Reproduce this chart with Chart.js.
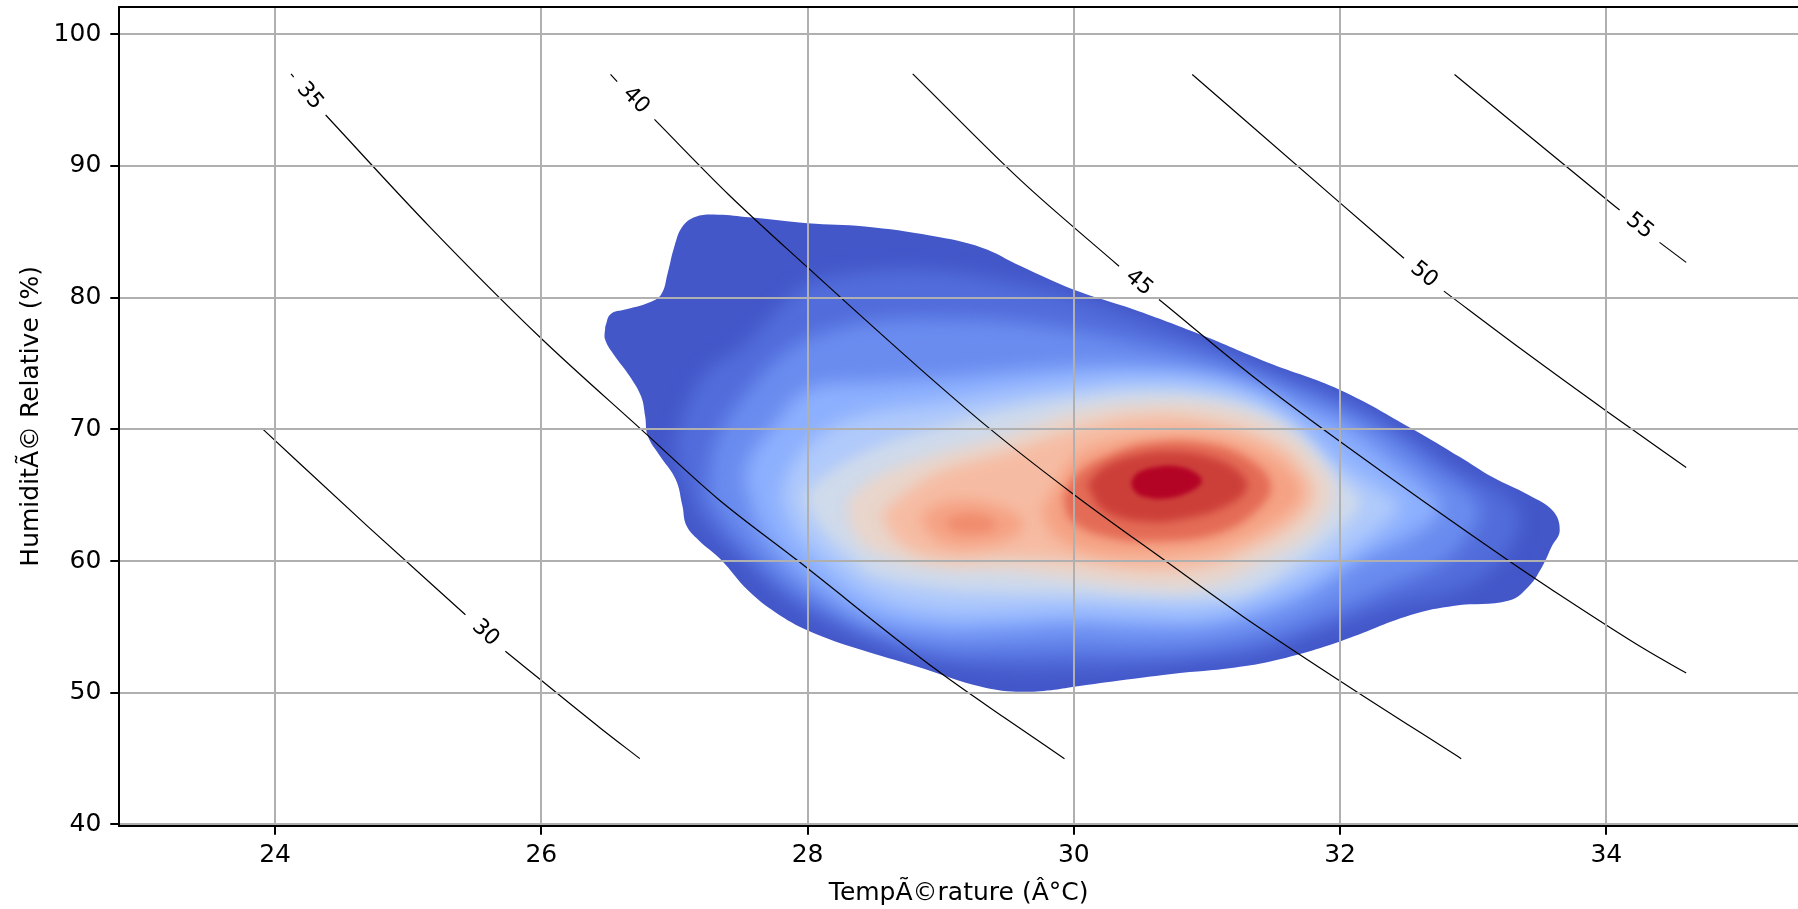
<!DOCTYPE html>
<html>
<head>
<meta charset="utf-8">
<title>Heat index vs KDE</title>
<script src="https://cdn.jsdelivr.net/npm/chart.js@4.4.1/dist/chart.umd.min.js"></script>
<style>
  html, body { margin: 0; padding: 0; background: #fff; }
  canvas { display: block; }
</style>
</head>
<body>
<canvas id="chart" width="1798" height="909"></canvas>
<script>
// ticks
const xTicks = [24, 26, 28, 30, 32, 34];
const yTicks = [40, 50, 60, 70, 80, 90, 100];

// density contours, [temperature, humidity], outermost first
const kde00 = [[26.48, 77.8], [26.52, 78.75], [26.63, 79.1], [26.8, 79.6], [26.9, 80.25], [26.95, 81.9], [27.0, 83.9], [27.06, 85.4], [27.16, 86.15], [27.33, 86.3], [27.56, 86.1], [28.0, 85.65], [28.43, 85.4], [28.93, 84.7], [29.31, 83.8], [29.6, 82.4], [30.0, 80.6], [30.45, 79.1], [30.95, 77.2], [31.45, 75.1], [32.0, 73.0], [32.55, 70.0], [32.9, 67.9], [33.14, 66.4], [33.42, 65.0], [33.6, 63.8], [33.65, 62.3], [33.59, 61.1], [33.52, 59.6], [33.42, 58.1], [33.27, 57.0], [32.86, 56.6], [32.53, 55.9], [32.0, 53.9], [31.53, 52.5], [31.2, 51.9], [30.75, 51.45], [30.4, 51.0], [30.0, 50.45], [29.83, 50.2], [29.54, 50.1], [29.25, 50.6], [28.82, 52.0], [28.39, 53.3], [28.01, 54.7], [27.76, 56.1], [27.55, 57.8], [27.35, 60.1], [27.18, 61.6], [27.09, 62.7], [27.06, 64.2], [27.01, 66.2], [26.89, 68.0], [26.8, 69.5], [26.78, 71.0], [26.75, 72.5], [26.66, 74.1], [26.55, 75.6], [26.48, 76.8]];
const kde05 = [[27.0, 69.0], [27.1, 72.0], [27.25, 74.5], [27.5, 76.2], [27.75, 78.8], [28.0, 81.0], [28.5, 82.0], [29.0, 82.0], [29.5, 81.2], [30.0, 80.0], [30.5, 78.3], [31.0, 76.4], [31.5, 74.3], [32.0, 72.3], [32.5, 69.5], [32.9, 66.8], [33.25, 64.8], [33.35, 63.0], [33.2, 60.0], [32.9, 57.9], [32.4, 56.6], [31.9, 54.8], [31.4, 53.0], [31.0, 52.5], [30.5, 52.0], [30.0, 51.8], [29.5, 51.8], [29.0, 52.3], [28.5, 53.9], [28.1, 55.6], [27.8, 57.5], [27.53, 60.0], [27.3, 62.0], [27.15, 64.0], [27.1, 65.5], [27.03, 67.3]];
const kde10 = [[27.25, 65.0], [27.28, 68.0], [27.35, 70.0], [27.5, 72.3], [27.85, 76.0], [28.2, 77.6], [28.6, 78.3], [29.0, 78.4], [29.5, 78.2], [30.0, 77.5], [30.5, 76.5], [31.0, 75.3], [31.5, 73.6], [32.0, 71.5], [32.35, 69.6], [32.7, 67.0], [33.0, 64.8], [33.05, 63.4], [32.95, 61.8], [32.78, 60.0], [32.3, 57.8], [31.9, 56.0], [31.5, 54.5], [31.0, 53.5], [30.5, 53.2], [30.0, 53.3], [29.5, 53.2], [29.0, 53.3], [28.5, 54.6], [28.15, 56.3], [27.85, 58.2], [27.65, 60.0], [27.42, 62.5]];
const kde20 = [[27.52, 66.5], [27.6, 68.5], [27.72, 70.0], [28.0, 73.0], [28.5, 73.6], [29.0, 73.9], [29.5, 74.4], [30.0, 74.8], [30.5, 74.8], [31.0, 74.2], [31.4, 73.0], [31.7, 71.6], [32.0, 70.3], [32.4, 67.4], [32.7, 65.0], [32.75, 63.8], [32.55, 62.0], [32.15, 60.0], [31.8, 57.6], [31.4, 55.9], [31.0, 55.0], [30.5, 54.9], [30.0, 55.1], [29.5, 54.8], [29.0, 54.7], [28.5, 55.6], [28.15, 57.5], [27.85, 60.0], [27.65, 62.5], [27.56, 65.0]];
const kde30 = [[27.8, 65.0], [27.9, 67.5], [28.15, 70.0], [28.5, 71.3], [29.0, 72.0], [29.5, 72.8], [30.0, 73.4], [30.5, 73.8], [31.0, 73.5], [31.4, 72.3], [31.7, 70.4], [32.0, 67.5], [32.3, 65.5], [32.45, 64.2], [32.3, 62.5], [31.95, 60.0], [31.5, 57.5], [31.0, 56.1], [30.5, 56.1], [30.0, 56.3], [29.5, 56.1], [29.0, 56.1], [28.5, 57.3], [28.12, 60.0], [27.9, 62.5]];
const kde40 = [[27.97, 64.8], [28.1, 66.3], [28.5, 68.6], [29.0, 70.2], [29.5, 71.5], [30.0, 72.4], [30.5, 72.9], [31.0, 72.6], [31.4, 71.5], [31.7, 69.5], [32.0, 66.2], [32.15, 64.5], [32.0, 62.5], [31.7, 60.0], [31.3, 57.6], [31.0, 57.2], [30.5, 57.2], [30.0, 57.5], [29.5, 57.6], [29.0, 57.9], [28.5, 58.9], [28.35, 60.0], [28.1, 62.5]];
const kde50 = [[28.3, 64.5], [28.4, 65.6], [28.6, 66.8], [29.0, 68.2], [29.5, 69.6], [30.0, 71.3], [30.5, 72.0], [31.0, 71.9], [31.5, 70.4], [31.8, 68.0], [31.95, 65.2], [31.8, 62.3], [31.4, 59.8], [31.0, 58.1], [30.5, 58.0], [30.0, 58.6], [29.5, 59.2], [29.0, 59.4], [28.5, 60.7], [28.33, 62.5]];
const kde60 = [[28.55, 63.5], [28.75, 65.3], [29.0, 66.8], [29.5, 68.3], [30.0, 70.0], [30.5, 71.0], [31.0, 70.7], [31.5, 69.0], [31.72, 67.0], [31.8, 65.0], [31.65, 62.8], [31.3, 60.8], [31.0, 59.6], [30.5, 59.3], [30.0, 60.0], [29.5, 60.3], [29.0, 60.2], [28.7, 61.3]];
const kde70a = [[29.75, 63.8], [29.85, 65.5], [30.0, 67.8], [30.25, 69.0], [30.6, 69.6], [31.0, 69.6], [31.35, 68.6], [31.62, 66.8], [31.7, 65.0], [31.55, 63.3], [31.2, 61.4], [30.85, 60.6], [30.45, 60.4], [30.1, 60.8], [29.85, 62.0]];
const kde70b = [[28.85, 63.4], [28.98, 64.3], [29.2, 64.6], [29.45, 64.1], [29.62, 63.0], [29.55, 61.9], [29.3, 61.2], [29.05, 61.3], [28.9, 62.3]];
const kde78 = [[29.05, 63.2], [29.2, 63.6], [29.38, 63.2], [29.4, 62.5], [29.25, 62.1], [29.08, 62.4]];
const kde80 = [[29.92, 64.8], [30.02, 66.6], [30.28, 68.1], [30.6, 69.0], [31.0, 68.9], [31.32, 67.7], [31.48, 65.8], [31.38, 63.9], [31.08, 62.1], [30.6, 61.5], [30.22, 61.9], [29.98, 63.1]];
const kde90 = [[30.1, 65.8], [30.22, 67.1], [30.45, 68.0], [30.75, 68.3], [31.05, 67.8], [31.25, 66.7], [31.3, 65.5], [31.15, 64.2], [30.88, 63.3], [30.52, 63.0], [30.22, 63.9]];
const kde97 = [[30.43, 66.0], [30.48, 66.7], [30.62, 67.15], [30.8, 67.15], [30.93, 66.6], [30.96, 66.0], [30.88, 65.3], [30.7, 64.75], [30.52, 64.9], [30.45, 65.4]];

const kdeContours = [kde00, kde05, kde10, kde20, kde30, kde40, kde50, kde60, kde70a, kde70b, kde78, kde80, kde90, kde97];
const kdeLevels = [0, 0.05, 0.1, 0.2, 0.3, 0.4, 0.5, 0.6, 0.7, 0.7, 0.76, 0.8, 0.9, 0.97];

// heat index isolines, each split in two where its label sits
const heatIndexLevels = [30, 35, 40, 45, 50, 55];
const hi30Before = [[23.91, 70.0], [24.7, 62.6], [25.43, 55.93]];
const hi30After = [[25.73, 53.16], [26.44, 47.35], [26.74, 45.0]];
const hi35Before = [[24.12, 97.0], [24.14, 96.75]];
const hi35After = [[24.38, 93.87], [25.16, 85.4], [26.0, 76.9], [26.75, 70.0], [27.33, 64.7], [27.93, 60.0], [28.96, 51.8], [29.48, 48.1], [29.93, 45.0]];
const hi40Before = [[26.52, 96.96], [26.57, 96.4]];
const hi40After = [[26.85, 93.54], [27.41, 87.8], [28.0, 82.3], [28.85, 74.56], [29.375, 70.0], [30.0, 65.06], [30.69, 60.0], [31.27, 55.8], [32.0, 50.9], [32.91, 45.0]];
const hi45Before = [[28.79, 97.0], [29.61, 88.83], [30.34, 82.39]];
const hi45After = [[30.64, 79.86], [31.39, 73.67], [32.01, 69.0], [33.27, 60.0], [33.58, 57.9], [34.29, 53.3], [34.6, 51.5]];
const hi50Before = [[30.89, 96.95], [32.0, 87.2], [32.48, 83.0]];
const hi50After = [[32.78, 80.5], [33.36, 76.1], [34.0, 71.4], [34.6, 67.1]];
const hi55Before = [[32.86, 96.95], [34.0, 87.47], [34.1, 86.66]];
const hi55After = [[34.4, 84.2], [34.6, 82.68]];
const heatIndexLines = [
  [hi30Before, hi30After], [hi35Before, hi35After], [hi40Before, hi40After],
  [hi45Before, hi45After], [hi50Before, hi50After], [hi55Before, hi55After]
];

// coolwarm colormap
const coolwarmStops = [[59,76,192],[78,104,215],[98,130,234],[119,154,247],[141,176,254],[163,194,255],[184,208,249],[204,217,238],[221,221,221],[236,211,198],[245,196,173],[247,177,148],[244,154,123],[236,127,99],[222,96,77],[203,62,56],[180,4,38]];
function coolwarm(t) {
  const s = Math.min(Math.max(t, 0), 1) * (coolwarmStops.length - 1);
  const i = Math.min(Math.floor(s), coolwarmStops.length - 2);
  const f = s - i;
  const a = coolwarmStops[i], b = coolwarmStops[i + 1];
  return 'rgb(' + a.map((v, k) => Math.round(v + (b[k] - v) * f)).join(',') + ')';
}
const distinctLevels = [...new Set(kdeLevels)].sort((a, b) => a - b);
function bandColor(level) {
  const next = distinctLevels.find(l => l > level);
  return coolwarm(next === undefined ? 1 : (level + next) / 2);
}
// softening of band edges so the steps read as a gradient
function bandBlur(level) {
  if (level === 0) return 0;
  if (level <= 0.3) return 9;
  if (level <= 0.7) return 7;
  if (level < 0.95) return 4;
  return 2;
}

const toPoints = (arr) => arr.map(([t, h]) => ({x: t, y: h}));
const gap = () => ({x: NaN, y: NaN});

const datasets = [];
kdeContours.forEach((poly, i) => {
  const pts = toPoints(poly);
  pts.push({x: poly[0][0], y: poly[0][1]});
  datasets.push({
    data: pts,
    kdeLevel: kdeLevels[i],
    fill: false,
    backgroundColor: bandColor(kdeLevels[i]),
    borderColor: 'rgba(0,0,0,0)',
    borderWidth: 0,
    tension: 0.4,
    pointRadius: 0,
    order: 100 - i
  });
});
heatIndexLines.forEach(([before, after]) => {
  datasets.push({
    data: [...toPoints(before), gap(), ...toPoints(after)],
    fill: false,
    borderColor: '#000',
    borderWidth: 1.2,
    cubicInterpolationMode: 'monotone',
    pointRadius: 0,
    order: 0
  });
});

// fills each density band inside its contour, clipped to the outer contour
const densityBands = {
  id: 'densityBands',
  beforeDatasetDraw(chart, args) {
    const ds = chart.data.datasets[args.index];
    if (ds.kdeLevel === undefined) return;
    const {ctx, chartArea} = chart;
    const outer = chart.getDatasetMeta(0).dataset;
    ctx.save();
    ctx.beginPath();
    ctx.rect(chartArea.left, chartArea.top, chartArea.right - chartArea.left, chartArea.bottom - chartArea.top);
    ctx.clip();
    if (ds.kdeLevel > 0) {
      ctx.beginPath();
      outer.path(ctx);
      ctx.closePath();
      ctx.clip();
      ctx.filter = 'blur(' + bandBlur(ds.kdeLevel) + 'px)';
    }
    ctx.fillStyle = ds.backgroundColor;
    ctx.beginPath();
    args.meta.dataset.path(ctx);
    ctx.closePath();
    ctx.fill();
    ctx.restore();
  }
};

// top spine and inline isoline labels
const isolineLabels = {
  id: 'isolineLabels',
  afterDraw(chart) {
    const {ctx, chartArea, scales: {x, y}} = chart;
    ctx.save();
    ctx.strokeStyle = '#000';
    ctx.lineWidth = 2;
    ctx.beginPath();
    ctx.moveTo(chartArea.left - 1, chartArea.top);
    ctx.lineTo(chartArea.right, chartArea.top);
    ctx.stroke();

    ctx.font = '22px "DejaVu Sans"';
    ctx.fillStyle = '#000';
    ctx.textAlign = 'center';
    ctx.textBaseline = 'middle';
    heatIndexLevels.forEach((level, i) => {
      const [before, after] = heatIndexLines[i];
      const a = before[before.length - 1], b = after[0];
      const x0 = x.getPixelForValue(a[0]), y0 = y.getPixelForValue(a[1]);
      const x1 = x.getPixelForValue(b[0]), y1 = y.getPixelForValue(b[1]);
      ctx.save();
      ctx.translate((x0 + x1) / 2, (y0 + y1) / 2);
      ctx.rotate(Math.atan2(y1 - y0, x1 - x0));
      ctx.fillText(String(level), 0, 0);
      ctx.restore();
    });
    ctx.restore();
  }
};

const font = {family: 'DejaVu Sans', size: 25};

new Chart(document.getElementById('chart'), {
  type: 'line',
  data: {datasets},
  options: {
    responsive: false,
    devicePixelRatio: 1,
    animation: false,
    events: [],
    layout: {padding: {top: 6.9, right: 0, bottom: 0, left: 0}},
    plugins: {legend: {display: false}, tooltip: {enabled: false}},
    scales: {
      x: {
        type: 'linear',
        min: 22.83,
        max: 35.44,
        afterBuildTicks: (axis) => { axis.ticks = xTicks.map(v => ({value: v})); },
        afterFit: (axis) => { axis.height = 83.2; axis.paddingLeft = 0; axis.paddingRight = 0; },
        grid: {color: '#b0b0b0', lineWidth: 2, z: 1, tickColor: '#000', tickWidth: 2, tickLength: 9},
        border: {color: '#000', width: 2, z: 2},
        ticks: {color: '#000', font, padding: 6, maxRotation: 0},
        title: {display: true, text: 'TempÃ©rature (Â°C)', color: '#000', font, padding: {top: 0, bottom: 1}}
      },
      y: {
        type: 'linear',
        min: 39.9,
        max: 102.08,
        afterBuildTicks: (axis) => { axis.ticks = yTicks.map(v => ({value: v})); },
        afterFit: (axis) => { axis.width = 119.3; axis.paddingTop = 0; axis.paddingBottom = 0; },
        grid: {color: '#b0b0b0', lineWidth: 2, z: 1, tickColor: '#000', tickWidth: 2, tickLength: 9},
        border: {color: '#000', width: 2, z: 2},
        ticks: {color: '#000', font, padding: 9},
        title: {display: true, text: 'HumiditÃ© Relative (%)', color: '#000', font, padding: {top: 16, bottom: 0}}
      }
    }
  },
  plugins: [densityBands, isolineLabels]
});
</script>
</body>
</html>
